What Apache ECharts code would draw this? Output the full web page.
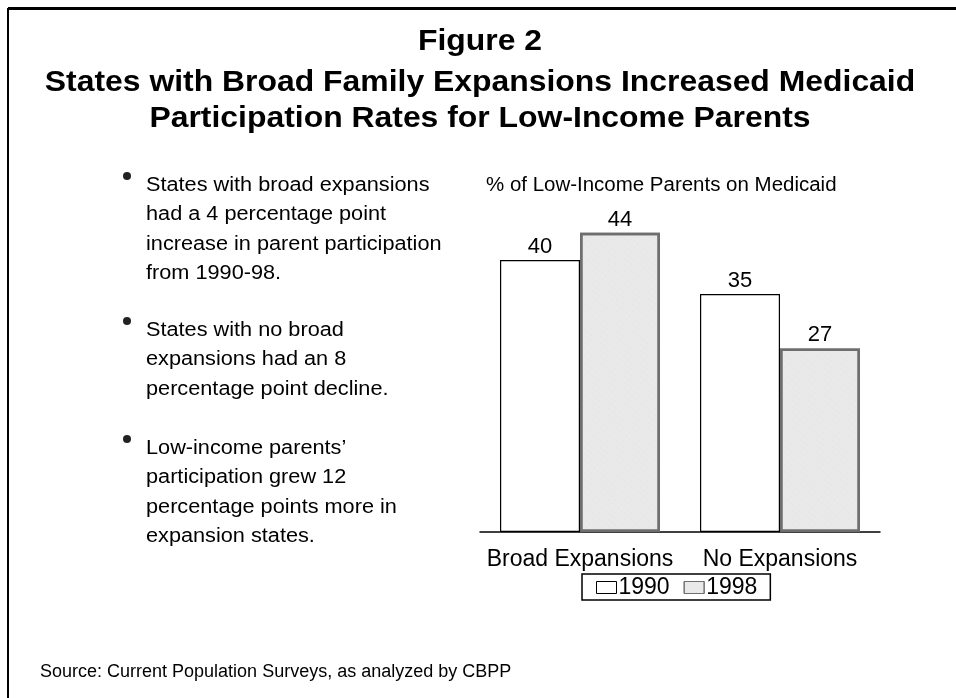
<!DOCTYPE html>
<html>
<head>
<meta charset="utf-8">
<script src="https://cdn.jsdelivr.net/npm/echarts@6/dist/echarts.min.js"></script>
<style>html,body{margin:0;padding:0;background:#fff}#c{width:956px;height:698px}</style>
</head>
<body>
<div id="c"></div>
<script>
const categories = ['Broad Expansions', 'No Expansions'];
const seriesNames = ['1990', '1998'];
const values1990 = [40, 35];
const values1998 = [44, 27];
const titleLines = ['Figure 2', 'States with Broad Family Expansions Increased Medicaid', 'Participation Rates for Low-Income Parents'];
const bullets = [
  ['States with broad expansions', 'had a 4 percentage point', 'increase in parent participation', 'from 1990-98.'],
  ['States with no broad', 'expansions had an 8', 'percentage point decline.'],
  ['Low-income parents\u2019', 'participation grew 12', 'percentage points more in', 'expansion states.']
];
const axisTitle = '% of Low-Income Parents on Medicaid';
const sourceText = 'Source: Current Population Surveys, as analyzed by CBPP';

const FONT = '"Liberation Sans", Arial, sans-serif';
const chart = echarts.init(document.getElementById('c'));

const bulletTops = [185, 330, 448];
const lineH = 29.5;
const graphics = [
  {type:'line', shape:{x1:8, y1:8.5, x2:956, y2:8.5}, style:{stroke:'#000', lineWidth:3}},
  {type:'line', shape:{x1:8, y1:8, x2:8, y2:698}, style:{stroke:'#000', lineWidth:2}},
  {type:'text', x:486, y:186, scaleX:1.05, style:{text:axisTitle, font:'19.5px ' + FONT, fill:'#000', textVerticalAlign:'middle'}},
  {type:'text', x:40, y:672, style:{text:sourceText, font:'18px ' + FONT, fill:'#000', textVerticalAlign:'middle'}}
];
bullets.forEach((b, i) => {
  graphics.push({type:'circle', shape:{cx:127, cy:bulletTops[i] - 9, r:4}, style:{fill:'#222'}});
  b.forEach((line, j) => {
    graphics.push({type:'text', x:146, y:bulletTops[i] + j * lineH, scaleX:1.085, style:{text:line, font:'20px ' + FONT, fill:'#000', textVerticalAlign:'middle'}});
  });
});
titleLines.forEach((t, i) => {
  graphics.push({type:'text', x:480, y:[42, 83, 119][i], scaleX:1.1, style:{text:t, font:'bold 29px ' + FONT, fill:'#000', textAlign:'center', textVerticalAlign:'middle'}});
});

chart.setOption({
  animation:false,
  backgroundColor:'#fff',
  grid:{left:480, right:76, top:192, bottom:166},
  xAxis:{type:'category', data:categories,
    axisLine:{lineStyle:{color:'#000', width:1.5}}, axisTick:{show:false},
    axisLabel:{interval:0, color:'#000', fontSize:23, fontFamily:FONT, margin:16}},
  yAxis:{type:'value', min:0, max:50, show:false, splitLine:{show:false}},
  legend:{left:582, top:574, data:seriesNames, orient:'horizontal', icon:'rect',
    borderColor:'#000', borderWidth:1.5, padding:[2,13,1,14], itemGap:14,
    itemWidth:20, itemHeight:12, itemStyle:{borderWidth:1},
    textStyle:{color:'#000', fontSize:23, fontFamily:FONT, padding:[0,0,0,-3]}},
  series:[
    {name:'1990', type:'bar', data:values1990, barGap:'0%', barCategoryGap:'20%',
     itemStyle:{color:'#fff', borderColor:'#000', borderWidth:1.2},
     label:{show:true, position:'top', color:'#000', fontSize:22, fontFamily:FONT, distance:2}},
    {name:'1998', type:'bar', data:values1998,
     itemStyle:{color:'#e9e9e9', borderColor:'#6e6e6e', borderWidth:2.5,
       decal:{symbol:'rect', symbolSize:0.6, color:'rgba(120,120,120,0.25)', dashArrayX:[1,3], dashArrayY:[1,4], rotation:0.7}},
     label:{show:true, position:'top', color:'#000', fontSize:22, fontFamily:FONT, distance:2}}
  ],
  graphic:graphics
});
</script>
</body>
</html>
